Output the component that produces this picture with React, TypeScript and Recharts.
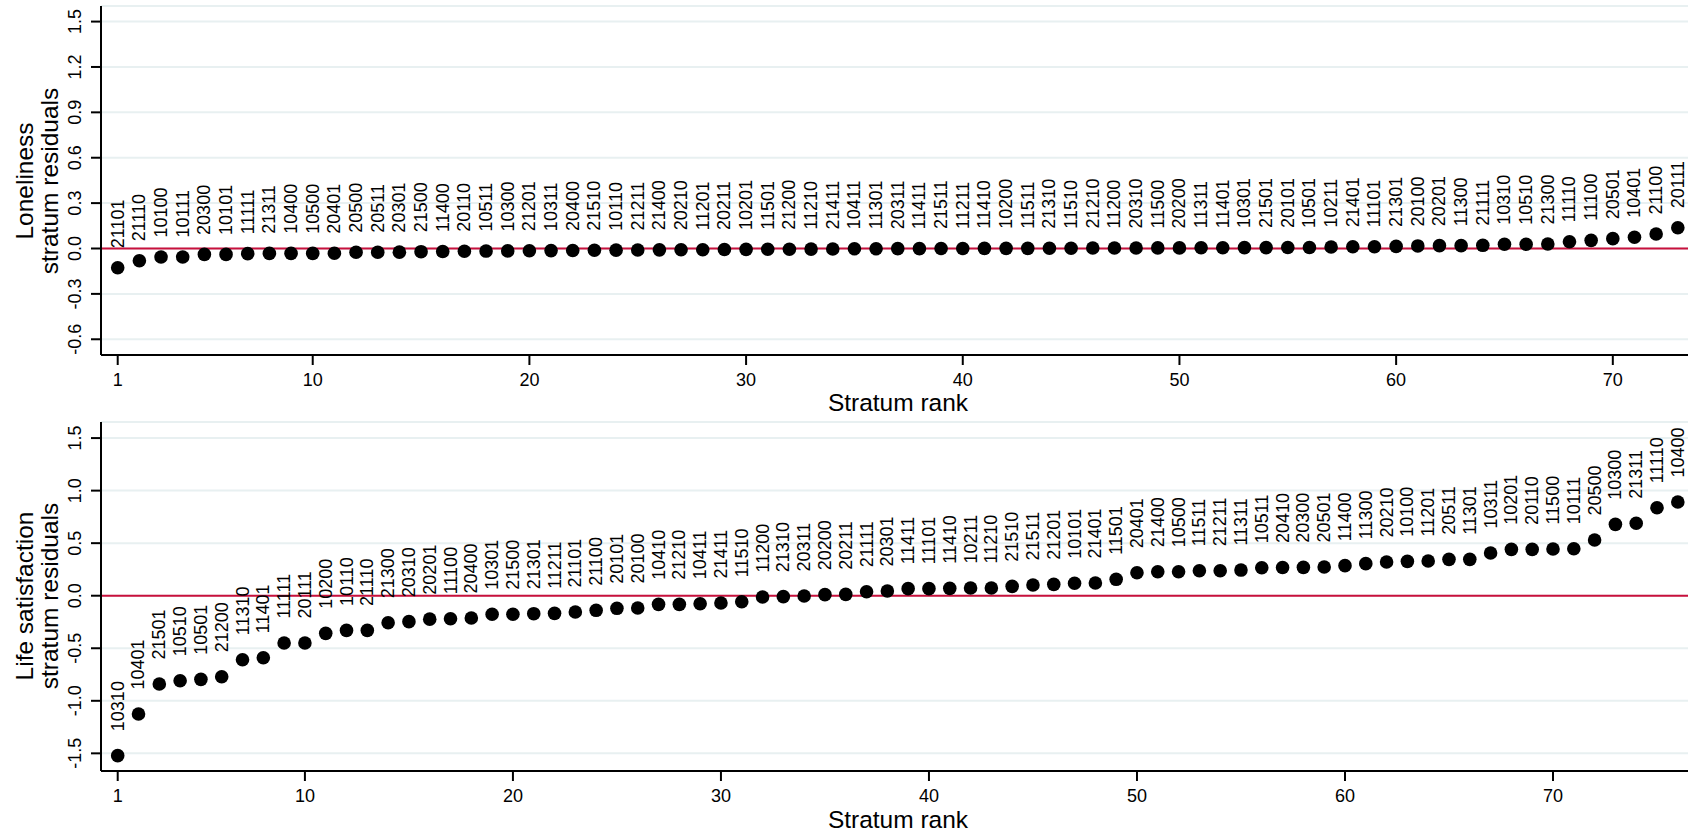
import { ScatterChart, Scatter, XAxis, YAxis, CartesianGrid, ReferenceLine, Label } from 'recharts';

const FONT = '"Liberation Sans", Arial, Helvetica, sans-serif';

// stratum codes in rank order, plus their residuals
const lonelinessStrata = [
  '21101', '21110', '10100', '10111', '20300', '10101', '11111', '21311', '10400', '10500',
  '20401', '20500', '20511', '20301', '21500', '11400', '20110', '10511', '10300', '21201',
  '10311', '20400', '21510', '10110', '21211', '21400', '20210', '11201', '20211', '10201',
  '11501', '21200', '11210', '21411', '10411', '11301', '20311', '11411', '21511', '11211',
  '11410', '10200', '11511', '21310', '11510', '21210', '11200', '20310', '11500', '20200',
  '11311', '11401', '10301', '21501', '20101', '10501', '10211', '21401', '11101', '21301',
  '20100', '20201', '11300', '21111', '10310', '10510', '21300', '11110', '11100', '20501',
  '10401', '21100', '20111',
];

const lonelinessResiduals = [
  -0.127, -0.081, -0.056, -0.056, -0.039, -0.039, -0.034, -0.032, -0.032, -0.032,
  -0.031, -0.025, -0.025, -0.024, -0.021, -0.020, -0.018, -0.017, -0.016, -0.015,
  -0.014, -0.013, -0.012, -0.011, -0.010, -0.009, -0.008, -0.008, -0.007, -0.006,
  -0.005, -0.005, -0.004, -0.003, -0.002, -0.002, -0.001, -0.001, 0.0, 0.0,
  0.001, 0.001, 0.001, 0.002, 0.002, 0.003, 0.003, 0.003, 0.004, 0.004,
  0.005, 0.005, 0.006, 0.006, 0.007, 0.007, 0.010, 0.012, 0.012, 0.014,
  0.017, 0.019, 0.019, 0.021, 0.028, 0.028, 0.030, 0.045, 0.054, 0.065,
  0.074, 0.096, 0.137,
];

const lifeSatStrata = [
  '10310', '10401', '21501', '10510', '10501', '21200', '11310', '11401', '11111', '20111',
  '10200', '10110', '21110', '21300', '20310', '20201', '11100', '20400', '10301', '21500',
  '21301', '11211', '21101', '21100', '20101', '20100', '10410', '21210', '10411', '21411',
  '11510', '11200', '21310', '20311', '20200', '20211', '21111', '20301', '11411', '11101',
  '11410', '10211', '11210', '21510', '21511', '21201', '10101', '21401', '11501', '20401',
  '21400', '10500', '11511', '21211', '11311', '10511', '20410', '20300', '20501', '11400',
  '11300', '20210', '10100', '11201', '20511', '11301', '10311', '10201', '20110', '11500',
  '10111', '20500', '10300', '21311', '11110', '10400',
];

const lifeSatResiduals = [
  -1.522, -1.126, -0.840, -0.809, -0.796, -0.771, -0.609, -0.590, -0.450, -0.450,
  -0.358, -0.330, -0.330, -0.257, -0.247, -0.223, -0.219, -0.212, -0.177, -0.177,
  -0.171, -0.168, -0.155, -0.139, -0.120, -0.117, -0.082, -0.082, -0.076, -0.069,
  -0.057, -0.012, -0.009, -0.003, 0.010, 0.013, 0.038, 0.045, 0.067, 0.067,
  0.070, 0.073, 0.073, 0.089, 0.102, 0.108, 0.118, 0.121, 0.156, 0.219,
  0.228, 0.228, 0.238, 0.238, 0.244, 0.266, 0.268, 0.270, 0.273, 0.286,
  0.305, 0.321, 0.327, 0.330, 0.346, 0.346, 0.406, 0.441, 0.441, 0.444,
  0.447, 0.530, 0.679, 0.689, 0.837, 0.892,
];

const rankTicks = [1, 10, 20, 30, 40, 50, 60, 70];
const lonelinessTicks = [-0.6, -0.3, 0, 0.3, 0.6, 0.9, 1.2, 1.5];
const lifeSatTicks = [-1.5, -1, -0.5, 0, 0.5, 1, 1.5];

const YTick = ({ x, y, payload }: any) => {
  const bx = x - 10;
  return (
    <text x={bx} y={y} transform={`rotate(-90, ${bx}, ${y})`} textAnchor="middle" fontSize={18} fontFamily={FONT} fill="#000">
      {Number(payload.value).toFixed(1)}
    </text>
  );
};

const XTick = ({ x, y, payload }: any) => (
  <text x={x} y={y + 20.5} textAnchor="middle" fontSize={18} fontFamily={FONT} fill="#000">
    {payload.value}
  </text>
);

type PanelProps = {
  strata: string[];
  residuals: number[];
  xDomain: [number, number];
  yDomain: [number, number];
  yTicks: number[];
  height: number;
  top: number;
  axisHeight: number;
  labelGap: number;
  title: [string, string];
  titleY: number;
  xTitleY: number;
};

const ResidualPanel = ({ strata, residuals, xDomain, yDomain, yTicks, height, top, axisHeight, labelGap, title, titleY, xTitleY }: PanelProps) => {
  const data = strata.map((code, i) => ({ rank: i + 1, value: residuals[i], code }));

  // dot plus vertical stratum label above it
  const renderPoint = (props: any) => {
    const { cx, cy, payload } = props;
    const ly = cy - labelGap;
    return (
      <g>
        <circle cx={cx} cy={cy} r={6.8} fill="#000" />
        <text x={cx} y={ly} transform={`rotate(-90, ${cx}, ${ly})`} textAnchor="start" dominantBaseline="central" fontSize={18} fontFamily={FONT} fill="#000">
          {payload.code}
        </text>
      </g>
    );
  };

  return (
    <ScatterChart width={1688} height={height} margin={{ top, right: 0, bottom: 0, left: 0 }}>
      <CartesianGrid vertical={false} stroke="#E8F0F1" strokeWidth={2} />
      <XAxis
        type="number"
        dataKey="rank"
        domain={xDomain}
        ticks={rankTicks}
        height={axisHeight}
        tickSize={10}
        tickMargin={0}
        tick={<XTick />}
        tickLine={{ stroke: '#000', strokeWidth: 2 }}
        axisLine={{ stroke: '#000', strokeWidth: 2 }}
        interval={0}
      >
        <Label
          content={() => (
            <text x={898} y={xTitleY} textAnchor="middle" fontSize={24.5} fontFamily={FONT} fill="#000">
              Stratum rank
            </text>
          )}
        />
      </XAxis>
      <YAxis
        type="number"
        dataKey="value"
        domain={yDomain}
        ticks={yTicks}
        width={101}
        tickSize={10}
        tickMargin={0}
        tick={<YTick />}
        tickLine={{ stroke: '#000', strokeWidth: 2 }}
        axisLine={{ stroke: '#000', strokeWidth: 2 }}
        interval={0}
      >
        <Label
          content={() => (
            <g>
              <text x={33} y={titleY} transform={`rotate(-90, 33, ${titleY})`} textAnchor="middle" fontSize={24.5} fontFamily={FONT} fill="#000">
                {title[0]}
              </text>
              <text x={58} y={titleY} transform={`rotate(-90, 58, ${titleY})`} textAnchor="middle" fontSize={24.5} fontFamily={FONT} fill="#000">
                {title[1]}
              </text>
            </g>
          )}
        />
      </YAxis>
      <ReferenceLine y={0} stroke="#C8103C" strokeWidth={2} />
      <Scatter data={data} shape={renderPoint} isAnimationActive={false} />
    </ScatterChart>
  );
};

export default function App() {
  return (
    <div style={{ position: 'absolute', left: 0, top: 0, width: 1688, height: 834, background: '#fff', overflow: 'hidden' }}>
      <div style={{ position: 'absolute', left: 0, top: 0 }}>
        <ResidualPanel
          strata={lonelinessStrata}
          residuals={lonelinessResiduals}
          xDomain={[0.229, 73.47]}
          yDomain={[-0.704, 1.603]}
          yTicks={lonelinessTicks}
          height={420}
          top={6}
          axisHeight={65}
          labelGap={19.5}
          title={['Loneliness', 'stratum residuals']}
          titleY={181}
          xTitleY={411}
        />
      </div>
      <div style={{ position: 'absolute', left: 0, top: 414 }}>
        <ResidualPanel
          strata={lifeSatStrata}
          residuals={lifeSatResiduals}
          xDomain={[0.197, 76.49]}
          yDomain={[-1.668, 1.653]}
          yTicks={lifeSatTicks}
          height={420}
          top={8}
          axisHeight={63}
          labelGap={24.5}
          title={['Life satisfaction', 'stratum residuals']}
          titleY={182}
          xTitleY={414}
        />
      </div>
    </div>
  );
}
